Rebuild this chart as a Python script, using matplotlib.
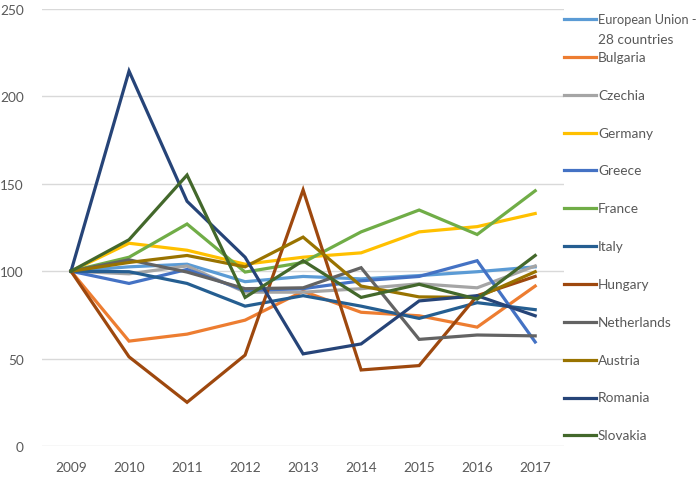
import matplotlib.pyplot as plt
from matplotlib.lines import Line2D

plt.rcParams['font.family'] = ['Lato', 'DejaVu Sans']

years = ['2009', '2010', '2011', '2012', '2013', '2014', '2015', '2016', '2017']

eu28 = [100, 102.5, 104, 94, 97, 95.6, 97.5, 99.7, 102.5]
bulgaria = [100, 60, 64, 72, 88.5, 76.5, 74.5, 68, 91.5]
czechia = [100, 98.5, 103, 88, 88, 90, 92.8, 90.5, 103]
germany = [100, 116, 112, 104, 108, 110.5, 122.5, 125.5, 133]
greece = [100, 93, 101, 89, 90, 94.5, 97, 106, 59.5]
france = [100, 108, 127, 99.5, 105, 122.5, 135, 121, 146]
italy = [100, 99.7, 93, 80, 86, 80, 73, 82, 78]
hungary = [100, 51, 25, 52, 146.5, 43.5, 46, 86, 97]
netherlands = [100, 106.5, 99.5, 90, 90.5, 102, 61, 63.5, 63]
austria = [100, 105, 109, 102.5, 119.5, 91.5, 85.3, 85, 99.7]
romania = [100, 214.5, 140, 108, 52.7, 58.4, 83, 86, 74.5]
slovakia = [100, 118, 155, 85, 106, 85, 92.5, 84, 109]

names = ['European Union -\n28 countries', 'Bulgaria', 'Czechia', 'Germany', 'Greece',
         'France', 'Italy', 'Hungary', 'Netherlands', 'Austria', 'Romania', 'Slovakia']
series = [eu28, bulgaria, czechia, germany, greece, france, italy, hungary,
          netherlands, austria, romania, slovakia]
colors = ['#5B9BD5', '#ED7D31', '#A5A5A5', '#FFC000', '#4472C4', '#70AD47',
          '#255E91', '#9E480E', '#636363', '#997300', '#264478', '#43682B']

fig = plt.figure(figsize=(7, 4.85), dpi=100)
ax = fig.add_axes([0.06, 38 / 485, 0.746, 437 / 485])

x = range(len(years))
for vals, c in zip(series, colors):
    ax.plot(x, vals, color=c, lw=2.3, solid_joinstyle='miter')

ax.set_xlim(-0.5, len(years) - 0.5)
ax.set_ylim(0, 250)
ax.set_yticks(range(0, 251, 50))
ax.set_xticks(list(x))
ax.set_xticklabels(years)
ax.grid(axis='y', color='#D9D9D9', lw=1)
ax.set_axisbelow(True)
for s in ax.spines.values():
    s.set_visible(False)
ax.tick_params(length=0, labelsize=9.8, labelcolor='#595959')
ax.tick_params(axis='x', pad=11)
ax.tick_params(axis='y', pad=13)

# legend drawn by hand
y_first = 20
step = 37.85
for i, (name, c) in enumerate(zip(names, colors)):
    yp = 1 - (y_first + i * step) / 485
    fig.add_artist(Line2D([564 / 700, 596 / 700], [yp, yp], color=c, lw=2.3,
                          transform=fig.transFigure))
    lines = name.split('\n')
    for k, txt in enumerate(lines):
        fs = 9.2 if len(txt) > 14 else 9.8
        fig.text(598 / 700, yp - k * 20 / 485, txt, color='#595959', fontsize=fs,
                 va='center', ha='left')

fig.savefig('out.png')
